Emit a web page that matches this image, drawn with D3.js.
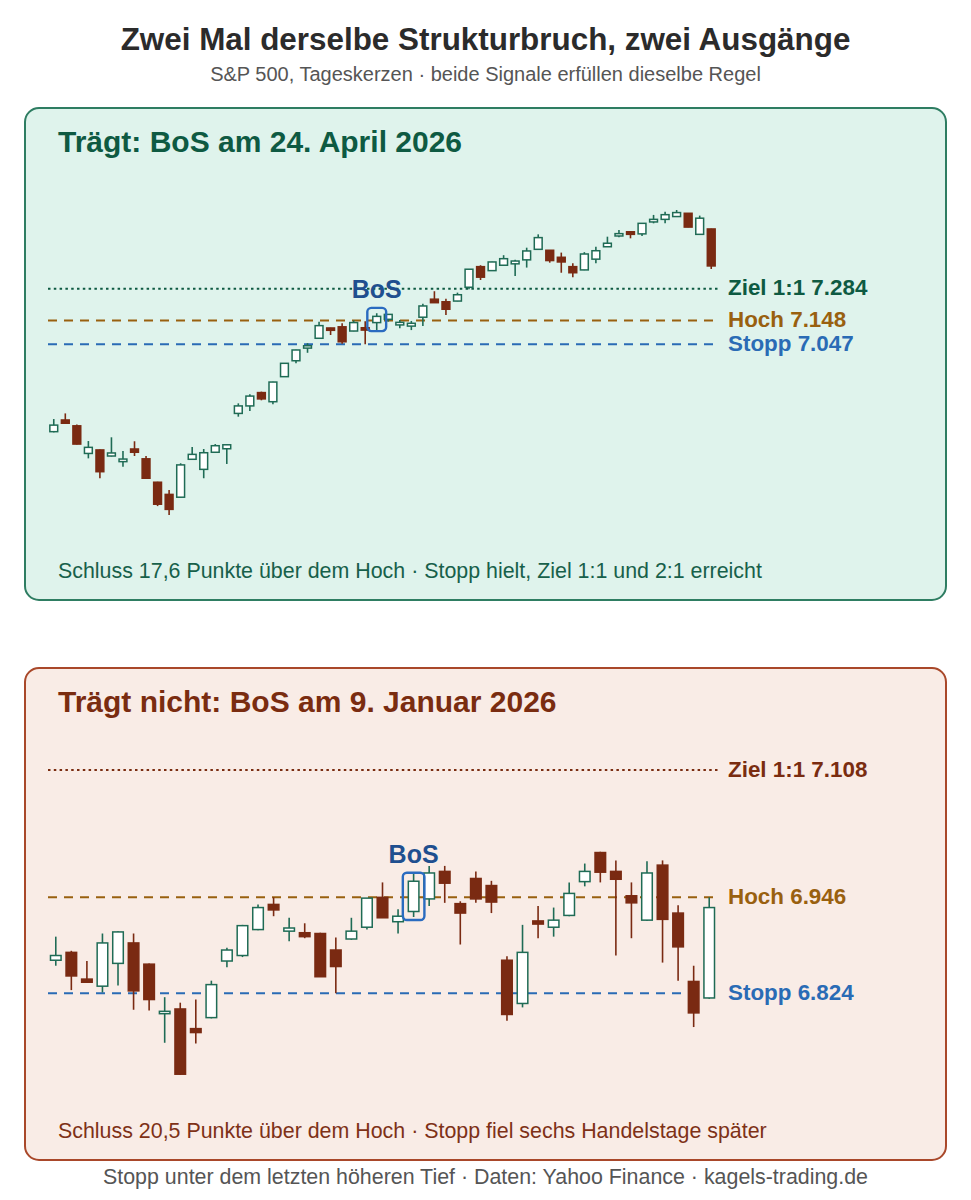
<!DOCTYPE html>
<html lang="de">
<head>
<meta charset="utf-8">
<script src="https://cdn.jsdelivr.net/npm/d3@7"></script>
<style>
  html, body { margin: 0; padding: 0; background: #ffffff; }
  svg { display: block; font-family: "Liberation Sans", Arial, Helvetica, sans-serif; }
</style>
</head>
<body>
<svg id="chart" width="971" height="1200"></svg>
<script>
// ---------- Data ----------
const chartTitle = "Zwei Mal derselbe Strukturbruch, zwei Ausgänge";
const chartSubtitle = "S&P 500, Tageskerzen · beide Signale erfüllen dieselbe Regel";
const chartFooter = "Stopp unter dem letzten höheren Tief · Daten: Yahoo Finance · kagels-trading.de";

// Panel 1: Trägt (BoS am 24. April 2026)
const topTitle = "Trägt: BoS am 24. April 2026";
const topNote = "Schluss 17,6 Punkte über dem Hoch · Stopp hielt, Ziel 1:1 und 2:1 erreicht";
const topOpen  = [6673,6723,6698,6580,6595,6569,6545,6599,6557,6457,6405,6393,6555,6512,6585,6600,6751,6783,6840,6801,6908,6976,7030,7072,7116,7121,7103,7117,7139,7153,7129,7124,7162,7239,7228,7231,7290,7378,7361,7384,7390,7407,7452,7448,7418,7378,7364,7410,7463,7509,7527,7518,7569,7580,7592,7606,7516,7539];
const topHigh  = [6727,6751,6704,6633,6597,6649,6590,6632,6569,6459,6424,6538,6607,6599,6620,6618,6794,6833,6844,6886,6966,7023,7051,7143,7117,7136,7148,7145,7179,7175,7150,7146,7219,7273,7241,7267,7368,7384,7399,7427,7407,7459,7516,7449,7438,7392,7440,7463,7506,7535,7528,7564,7599,7613,7620,7607,7596,7540];
const topLow   = [6670,6709,6618,6559,6474,6567,6523,6569,6472,6355,6317,6391,6553,6474,6582,6535,6737,6761,6807,6790,6907,6965,7010,7071,7086,7049,7102,7047,7107,7143,7115,7107,7124,7223,7171,7230,7281,7321,7360,7383,7338,7374,7451,7395,7352,7333,7363,7392,7462,7504,7499,7509,7563,7563,7591,7546,7515,7368];
const topClose = [6701,6709,6620,6606,6502,6582,6556,6585,6474,6363,6341,6531,6576,6583,6613,6617,6783,6825,6813,6885,6965,7022,7040,7126,7106,7057,7139,7107,7165.6,7174,7140,7136,7210,7224,7196,7258,7367,7333,7398,7412,7402,7445,7502,7404,7398,7352,7432,7446,7478,7519,7516,7563,7580,7600,7609,7547,7585,7381];
const topBosIndex = 28;
const topZiel = 7284, topHoch = 7148, topStopp = 7047;

// Panel 2: Trägt nicht (BoS am 9. Januar 2026)
const botTitle = "Trägt nicht: BoS am 9. Januar 2026";
const botNote = "Schluss 20,5 Punkte über dem Hoch · Stopp fiel sechs Handelstage später";
const botOpen  = [6866,6876,6842,6833,6862,6888,6861,6798,6804,6779,6793,6865,6872,6905,6937,6903,6901,6900,6879,6893,6908,6946,6915,6928,6944,6979,6938,6970,6961,6866,6811,6916,6908,6923,6966,7003,6979,6948,6917,6987,6926,6839,6818];
const botHigh  = [6896,6878,6865,6900,6903,6900,6862,6819,6812,6816,6840,6882,6911,6937,6946,6920,6913,6901,6895,6920,6945,6965,6931,6978,6986,6986,6941,6979,6967,6871,6911,6935,6933,6965,6989,7004,6993,6965,6992,6993,6936,6859,6946];
const botLow   = [6859,6828,6837,6825,6834,6803,6802,6761,6720,6760,6792,6857,6870,6904,6922,6890,6894,6845,6824,6892,6905,6920,6900,6921,6935,6939,6886,6939,6926,6789,6806,6894,6896,6922,6960,6965,6872,6894,6916,6863,6840,6781,6817];
const botClose = [6872,6846,6838,6888,6902,6827,6816,6801,6721,6774,6835,6879,6910,6933,6930,6907,6896,6845,6858,6903,6945,6920,6922,6966.5,6977,6964,6926,6944,6940,6797,6876,6912,6917,6951,6979,6978,6969,6939,6977,6918,6883,6799,6933];
const botBosIndex = 23;
const botZiel = 7108, botHoch = 6946, botStopp = 6824;

// ---------- Styles ----------
const C = {
  title: "#2b2b2b", sub: "#555555",
  upStroke: "#1f6b55", upFill: "#ffffff", down: "#7a2a12",
  hoch: "#99600f", stopp: "#2a6bb5", bos: "#1f4f8f", bosBox: "#2a6bc0"
};
const deLocale = d3.formatLocale({decimal: ",", thousands: ".", grouping: [3], currency: ["", " €"]});
const fmt = deLocale.format(",d");

const svg = d3.select("#chart");

svg.append("text").attr("x", 485.5).attr("y", 50).attr("text-anchor", "middle")
  .attr("font-size", 31.4).attr("font-weight", "bold").attr("fill", C.title).text(chartTitle);
svg.append("text").attr("x", 485.5).attr("y", 81).attr("text-anchor", "middle")
  .attr("font-size", 20).attr("fill", C.sub).text(chartSubtitle);
svg.append("text").attr("x", 485.5).attr("y", 1184).attr("text-anchor", "middle")
  .attr("font-size", 21.4).attr("fill", C.sub).text(chartFooter);

function drawPanel(p) {
  const g = svg.append("g");
  const y0 = p.top;
  g.append("rect").attr("x", 25).attr("y", y0).attr("width", 921).attr("height", 492)
    .attr("rx", 14).attr("fill", p.bg).attr("stroke", p.border).attr("stroke-width", 2);
  g.append("text").attr("x", 58).attr("y", y0 + 44).attr("font-size", 30).attr("font-weight", "bold")
    .attr("fill", p.color).text(p.title);
  g.append("text").attr("x", 58).attr("y", y0 + 469.5).attr("font-size", 21.4)
    .attr("fill", p.noteColor).text(p.note);

  const n = p.open.length;
  const idx = d3.range(n);
  const x = d3.scalePoint().domain(idx).range([48, 717]).padding(0.5);
  const step = x.step();
  const bw = step * 0.68;
  const yMin = d3.min(p.low);
  const yMax = Math.max(d3.max(p.high), p.ziel);
  const y = d3.scaleLinear().domain([yMin, yMax]).range([y0 + 407, y0 + 102]);

  // reference lines
  const levels = [
    {v: p.ziel, label: "Ziel 1:1 " + fmt(p.ziel), color: p.color, dash: "2.5,3.3"},
    {v: p.hoch, label: "Hoch " + fmt(p.hoch), color: C.hoch, dash: "9,7"},
    {v: p.stopp, label: "Stopp " + fmt(p.stopp), color: C.stopp, dash: "9,7"}
  ];
  levels.forEach(l => {
    g.append("line").attr("x1", 48).attr("x2", 718).attr("y1", y(l.v)).attr("y2", y(l.v))
      .attr("stroke", l.color).attr("stroke-width", 2).attr("stroke-dasharray", l.dash);
    g.append("text").attr("x", 728).attr("y", y(l.v) + 6.5).attr("font-size", 22.4)
      .attr("font-weight", "bold").attr("fill", l.color).text(l.label);
  });

  // candles
  const data = idx.map(i => ({i, o: p.open[i], h: p.high[i], l: p.low[i], c: p.close[i], up: p.close[i] >= p.open[i]}));
  const cg = g.append("g").selectAll("g").data(data).join("g");
  cg.append("line")
    .attr("x1", d => x(d.i)).attr("x2", d => x(d.i))
    .attr("y1", d => y(d.h)).attr("y2", d => y(d.l))
    .attr("stroke", d => d.up ? C.upStroke : C.down).attr("stroke-width", 1.6);
  cg.append("rect")
    .attr("x", d => x(d.i) - bw / 2).attr("width", bw)
    .attr("y", d => y(Math.max(d.o, d.c)))
    .attr("height", d => Math.max(1.5, Math.abs(y(d.o) - y(d.c))))
    .attr("fill", d => d.up ? C.upFill : C.down)
    .attr("stroke", d => d.up ? C.upStroke : C.down).attr("stroke-width", 1.5);

  // BoS marker
  const b = data[p.bos];
  const bTop = y(Math.max(b.o, b.c)) - 8.5;
  const bBot = y(Math.min(b.o, b.c)) + 8.5;
  g.append("rect").attr("x", x(b.i) - bw / 2 - 5.5).attr("y", bTop)
    .attr("width", bw + 11).attr("height", bBot - bTop).attr("rx", 4)
    .attr("fill", "none").attr("stroke", C.bosBox).attr("stroke-width", 2.4);
  g.append("text").attr("x", x(b.i)).attr("y", bTop - 10).attr("text-anchor", "middle")
    .attr("font-size", 25).attr("font-weight", "bold").attr("fill", C.bos).text("BoS");
}

drawPanel({
  top: 108, bg: "#dff3ec", border: "#2e7d62", color: "#0e5a42", noteColor: "#17604a",
  title: topTitle, note: topNote,
  open: topOpen, high: topHigh, low: topLow, close: topClose,
  bos: topBosIndex, ziel: topZiel, hoch: topHoch, stopp: topStopp
});
drawPanel({
  top: 668, bg: "#f9ece6", border: "#a9482a", color: "#7a2c10", noteColor: "#7e3117",
  title: botTitle, note: botNote,
  open: botOpen, high: botHigh, low: botLow, close: botClose,
  bos: botBosIndex, ziel: botZiel, hoch: botHoch, stopp: botStopp
});
</script>
</body>
</html>
